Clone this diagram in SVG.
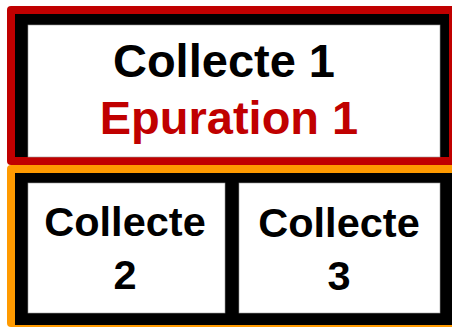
<svg xmlns="http://www.w3.org/2000/svg" width="452" height="329" viewBox="0 0 452 329">
<style>
.lbl{font-family:"Liberation Sans",Arial,sans-serif;font-weight:bold;text-anchor:middle}
.big{font-size:47px}
.mid{font-size:41.5px}
.blk{fill:#000}
.red{fill:#C00000}
.cell{fill:#fff;stroke:#999;stroke-width:0.6}
</style>
<rect width="452" height="329" fill="#fff"/>
<g id="node-collecte1">
<rect x="7" y="6" width="460" height="159" rx="4" fill="#C00000"/>
<rect x="15" y="14" width="434" height="143" fill="#000"/>
<rect class="cell" x="28" y="25" width="412" height="132"/>
<text class="lbl big blk" x="224" y="77">Collecte 1</text>
<text class="lbl big red" x="229" y="134">Epuration 1</text>
</g>
<g id="node-bottom">
<rect x="7" y="165" width="460" height="162" rx="4" fill="#FF9A00"/>
<rect x="15" y="173" width="450" height="152" fill="#000"/>
</g>
<g id="node-collecte2">
<rect class="cell" x="28" y="183" width="197" height="130"/>
<text class="lbl mid blk" x="125" y="236">Collecte</text>
<text class="lbl mid blk" x="125" y="289">2</text>
</g>
<g id="node-collecte3">
<rect class="cell" x="239" y="183" width="201" height="130"/>
<text class="lbl mid blk" x="339" y="237">Collecte</text>
<text class="lbl mid blk" x="339" y="290">3</text>
</g>
</svg>
